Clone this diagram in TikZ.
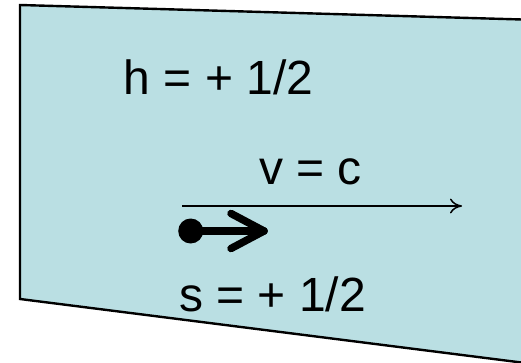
\documentclass[tikz,border=0pt]{standalone}
\usepackage{fontspec}
\setmainfont{Liberation Sans}
\usetikzlibrary{arrows.meta}
\definecolor{panel}{RGB}{186,223,227}
\begin{document}
\begin{tikzpicture}[x=1pt,y=-1pt,
  lbl/.style={anchor=base west,inner sep=0pt,font=\fontsize{48}{52}\selectfont},
  thin arrow/.style={line width=1.3pt,-{To[length=12pt,width=15pt,line width=1.5pt]}},
  spinarrow/.style={line width=7.5pt,line cap=round,line join=round}]
\useasboundingbox (0,0) rectangle (521,363);
\begin{scope}
\clip (0,0) rectangle (521,363);
\draw[fill=panel,line width=2.4pt,line join=miter] (20,5) -- (560,20.6) -- (560,367.4) -- (20,299) -- cycle;
\end{scope}
\node[lbl] (h) at (123.5,94.3) {h = + 1/2};
\node[lbl] (v) at (259,184.3) {v = c};
\node[lbl] (s) at (179,311) {s = + 1/2};
\coordinate (a0) at (182,206);
\coordinate (a1) at (462,206);
\draw[thin arrow] (a0) -- (a1);
\node[circle,fill=black,inner sep=0pt,minimum size=25pt] (dot) at (190.7,231) {};
\coordinate (tip) at (264,231);
\coordinate (w1) at (231,213.5);
\coordinate (w2) at (231,248.5);
\draw[spinarrow] (dot.center) -- (tip);
\draw[spinarrow] (w1) -- (tip) -- (w2);
\end{tikzpicture}
\end{document}
